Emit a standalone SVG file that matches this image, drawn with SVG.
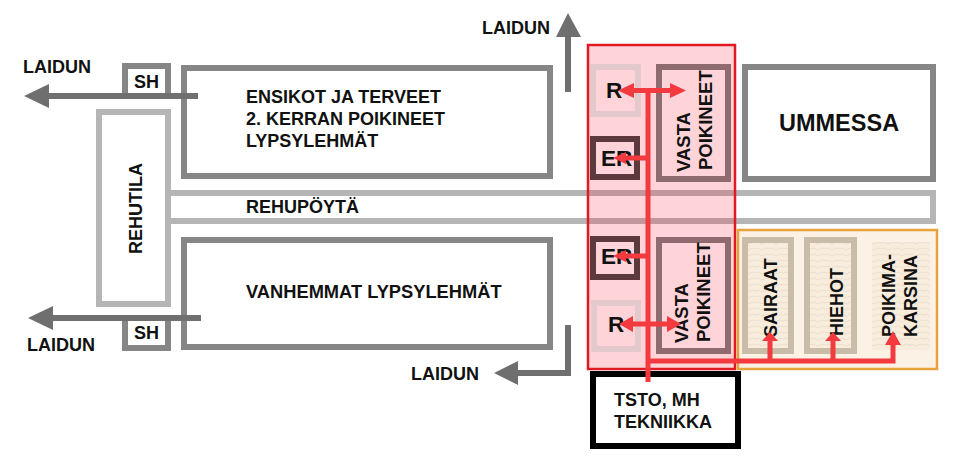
<svg xmlns="http://www.w3.org/2000/svg" width="960" height="470" viewBox="0 0 960 470">
<style>
text{font-family:"Liberation Sans",Arial,sans-serif;font-weight:bold;fill:#111}
.s{fill:#fff;stroke:#868686;stroke-width:6}
.l{fill:#fff;stroke:#b5b5b5;stroke-width:6}
.g{fill:none;stroke:#6f6f6f;stroke-width:6}
.gh{fill:#6f6f6f}
.r{fill:none;stroke:#f23a3f;stroke-width:5}
.rh{fill:#f23a3f}
.t{font-size:18px}
.v{font-size:18.5px}
.b{font-size:22.5px}
</style>
<defs>
<pattern id="tex" width="14" height="6" patternUnits="userSpaceOnUse">
<rect width="14" height="6" fill="#f8eddd"/>
<path d="M0 3q2-2 4 0t4 0 6 0" fill="none" stroke="#e0d3bf" stroke-width=".6"/>
</pattern>
</defs>
<rect width="960" height="470" fill="#fff"/>
<g id="rehupoyta"><path class="l" d="M168 193H933V221H168"/><text x="246" y="213" class="t">REHUPÖYTÄ</text></g>
<g id="rehutila"><rect class="l" x="99" y="112" width="69" height="192"/><text class="t" transform="translate(142 254) rotate(-90)">REHUTILA</text></g>
<g id="sh-top"><path class="s" d="M125 96V66H168V96"/><text x="134" y="88" class="t">SH</text></g>
<g id="sh-bottom"><path class="s" d="M125 318V348H168V318"/><text x="134" y="339" class="t">SH</text></g>
<g id="ensikot"><rect class="s" x="184" y="68" width="366" height="108"/><text x="246" y="103" class="t">ENSIKOT JA TERVEET</text><text x="246" y="125" class="t">2. KERRAN POIKINEET</text><text x="246" y="147" class="t">LYPSYLEHMÄT</text></g>
<g id="vanhemmat"><rect class="s" x="184" y="240" width="366" height="107"/><text x="246" y="298" class="t" style="font-size:18.3px">VANHEMMAT LYPSYLEHMÄT</text></g>
<g id="ummessa"><rect class="s" x="745" y="67" width="188" height="112"/><text x="779" y="131" style="font-size:23.5px">UMMESSA</text></g>
<g id="r-top"><rect x="593" y="67" width="45" height="47" fill="#fff" stroke="#ddf0ef" stroke-width="6"/></g>
<g id="er-top"><rect x="593" y="139" width="44" height="38" fill="#fff" stroke="#323e3d" stroke-width="6"/></g>
<g id="vasta-top"><rect x="659" y="67" width="69" height="112" fill="#fff" stroke="#737c7c" stroke-width="6"/></g>
<g id="er-bottom"><rect x="593" y="239" width="44" height="38" fill="#fff" stroke="#323e3d" stroke-width="6"/></g>
<g id="r-bottom"><rect x="594" y="303" width="44" height="46" fill="#fff" stroke="#ddf0ef" stroke-width="6"/></g>
<g id="vasta-bottom"><rect x="659" y="240" width="69" height="111" fill="#fff" stroke="#737c7c" stroke-width="6"/></g>
<g id="overlay"><rect x="588" y="45" width="147" height="324" fill="#ff2a40" fill-opacity=".2" stroke="#e01a22" stroke-width="2.5"/></g>
<g id="orange"><rect x="738" y="230" width="199" height="139" fill="#fbf1e4" stroke="#e8a33d" stroke-width="2.5"/></g>
<g id="sairaat"><rect x="745" y="240" width="46" height="111" fill="url(#tex)" stroke="#c9bca9" stroke-width="6"/></g>
<g id="hiehot"><rect x="807" y="240" width="47" height="111" fill="url(#tex)" stroke="#c9bca9" stroke-width="6"/></g>
<g id="poikimakarsina"><rect x="872" y="242" width="58" height="108" fill="url(#tex)"/></g>
<g id="tsto"><rect x="593" y="374" width="145" height="72" fill="#fff" stroke="#000" stroke-width="6"/><text x="614" y="406" class="t">TSTO, MH</text><text x="614" y="428" class="t">TEKNIIKKA</text></g>
<g id="labels">
<text x="482" y="34" class="t">LAIDUN</text><text x="23" y="73" class="t">LAIDUN</text><text x="27" y="351" class="t">LAIDUN</text><text x="411" y="380" class="t">LAIDUN</text>
<text x="606" y="98" class="b">R</text><text x="601" y="166" class="b">ER</text><text x="601" y="264" class="b">ER</text><text x="608" y="332" class="b">R</text>
<text class="v" transform="translate(690 172) rotate(-90)">VASTA</text><text class="v" transform="translate(712 170) rotate(-90)">POIKINEET</text>
<text class="v" transform="translate(688 343) rotate(-90)">VASTA</text><text class="v" transform="translate(710 342) rotate(-90)">POIKINEET</text>
<text class="t" transform="translate(777 337) rotate(-90)">SAIRAAT</text><text class="t" transform="translate(843 336) rotate(-90)">HIEHOT</text>
<text class="t" transform="translate(895 337) rotate(-90)">POIKIMA-</text><text class="t" transform="translate(917 337) rotate(-90)">KARSINA</text>
</g>
<g id="connectors">
<path class="g" d="M568 92V36"/><path class="gh" d="M568 13L581 37H556Z"/>
<path class="g" d="M198 96H48"/><path class="gh" d="M24 96L49 84V108Z"/>
<path class="g" d="M201 318H52"/><path class="gh" d="M28 318L53 306V330Z"/>
<path class="g" d="M568 325V373H516"/><path class="gh" d="M494 373L518 361V385Z"/>
<path class="r" d="M648 382V91M630 90.5H674M648 158H622M648 256H622M632 324H668M648 361H893V340M770 361V340M833 361V340"/>
<path class="rh" d="M618 90.5L634 83V98ZM686 90.5L670 83V98ZM613 158L626 152V164ZM613 256L626 250V262ZM619 324L633 316V332ZM681 324L667 316V332ZM770 332L778 341H762ZM833 332L841 341H825ZM893 331L901 345H885Z"/>
</g>
</svg>
